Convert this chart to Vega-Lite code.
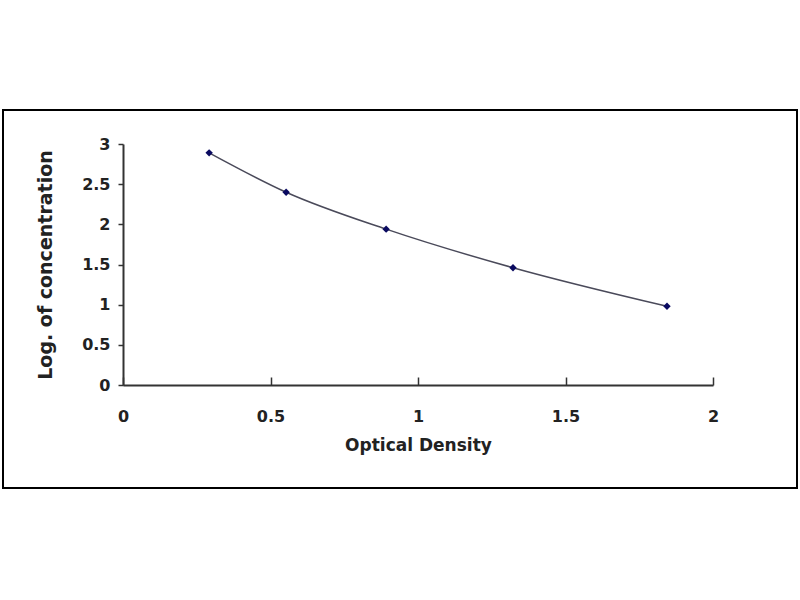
{
  "$schema": "https://vega.github.io/schema/vega-lite/v6.json",
  "width": 794,
  "height": 378,
  "autosize": "none",
  "padding": {"left": 3, "top": 110, "right": 3, "bottom": 112},
  "background": "white",
  "config": {
    "view": {"stroke": "black", "strokeWidth": 2},
    "font": "DejaVu Sans",
    "axis": {
      "labelFont": "DejaVu Sans",
      "labelFontWeight": "bold",
      "labelFontSize": 16,
      "labelColor": "#222222",
      "labelFlush": false,
      "titleFont": "DejaVu Sans",
      "titleFontWeight": "bold",
      "titleFontSize": 17,
      "titleColor": "#222222",
      "domainColor": "#333333",
      "domainWidth": 2,
      "tickColor": "#333333",
      "tickWidth": 1.5,
      "grid": false
    }
  },
  "data": {
    "values": [
      {"od": 0.292, "logc": 2.89},
      {"od": 0.553, "logc": 2.40},
      {"od": 0.892, "logc": 1.94},
      {"od": 1.322, "logc": 1.46},
      {"od": 1.844, "logc": 0.98}
    ]
  },
  "encoding": {
    "x": {
      "field": "od",
      "type": "quantitative",
      "title": "Optical Density",
      "scale": {"domain": [0, 2], "range": [120, 710], "nice": false},
      "axis": {
        "values": [0, 0.5, 1, 1.5, 2],
        "format": "~g",
        "offset": -103,
        "tickSize": -8,
        "labelPadding": 31,
        "titlePadding": 13
      }
    },
    "y": {
      "field": "logc",
      "type": "quantitative",
      "title": "Log. of concentration",
      "scale": {"domain": [0, 3], "range": [275, 34], "nice": false},
      "axis": {
        "values": [0, 0.5, 1, 1.5, 2, 2.5, 3],
        "format": "~g",
        "offset": -120,
        "tickSize": 5,
        "labelPadding": 8,
        "titleFontSize": 19,
        "titlePadding": 26
      }
    }
  },
  "layer": [
    {
      "mark": {"type": "line", "interpolate": "monotone", "color": "#4a4a5a", "strokeWidth": 1.5}
    },
    {
      "mark": {"type": "point", "shape": "diamond", "filled": true, "color": "#0a0a60", "size": 55, "opacity": 1}
    }
  ]
}
